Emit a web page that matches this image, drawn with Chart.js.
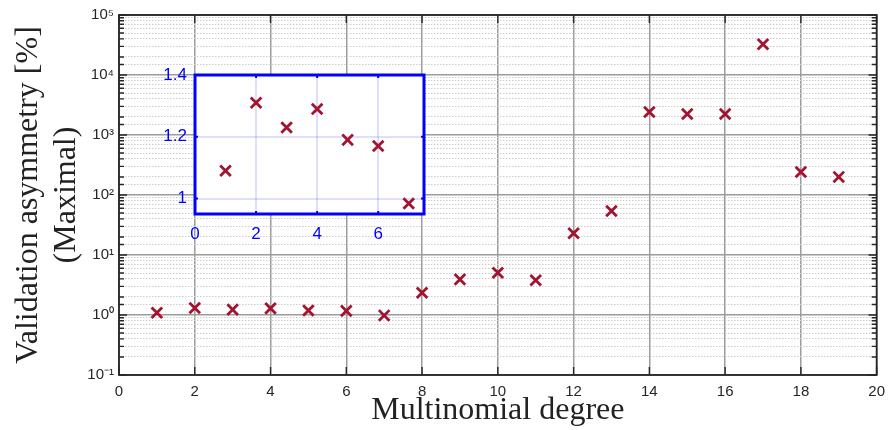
<!DOCTYPE html>
<html>
<head>
<meta charset="utf-8">
<script src="https://cdn.jsdelivr.net/npm/chart.js@4.4.1/dist/chart.umd.min.js"></script>
<style>
  html, body { margin: 0; padding: 0; background: #fff; }
  #wrap { position: relative; width: 893px; height: 430px; }
  #mainBox { position: absolute; left: 0; top: 0; width: 893px; height: 430px; }
  #insetBox { position: absolute; left: 150px; top: 55px; width: 285px; height: 195px; }
</style>
</head>
<body>
<div id="wrap">
  <div id="mainBox"><canvas id="mainChart"></canvas></div>
  <div id="insetBox"><canvas id="insetChart"></canvas></div>
</div>
<script>
// polynomial degree vs. maximal validation asymmetry (%)
const degrees = [1, 2, 3, 4, 5, 6, 7, 8, 9, 10, 11, 12, 13, 14, 15, 16, 17, 18, 19];
const asymmetry = [1.09, 1.31, 1.23, 1.29, 1.19, 1.17, 0.984, 2.35, 3.93, 5.05, 3.8, 23, 54, 2420, 2240, 2240, 32600, 242, 200];

// zoomed view of the low degrees
const insetCount = 7;
const insetXTicks = [0, 2, 4, 6];
const insetYTicks = [1, 1.2, 1.4];

const xTickLabels = [0, 2, 4, 6, 8, 10, 12, 14, 16, 18, 20];
const supers = { '-': '⁻', '0': '⁰', '1': '¹', '2': '²', '3': '³', '4': '⁴', '5': '⁵' };

const markColor = '#A2142F';
const axisColor = '#262626';
const majorGrid = '#9c9c9c';

function isDecade(v) {
    const e = Math.log10(v);
    return Math.abs(e - Math.round(e)) < 1e-9;
}

function decadeLabel(v) {
    const e = String(Math.round(Math.log10(v)));
    return '10' + e.split('').map(c => supers[c]).join('');
}

// frame + inward tick marks, matlab style
const frameTicks = {
    id: 'frameTicks',
    afterDraw(chart, args, opts) {
        const { ctx, chartArea: a, scales } = chart;
        const xs = scales.x, ys = scales.y;
        ctx.save();
        ctx.strokeStyle = opts.color;
        ctx.lineWidth = opts.tickWidth;
        ctx.beginPath();
        ys.ticks.forEach(t => {
            const y = ys.getPixelForValue(t.value);
            if (y < a.top - 0.5 || y > a.bottom + 0.5) return;
            const len = opts.logMinor && !isDecade(t.value) ? opts.minorLen : opts.majorLen;
            ctx.moveTo(a.left, y); ctx.lineTo(a.left + len, y);
            ctx.moveTo(a.right, y); ctx.lineTo(a.right - len, y);
        });
        xs.ticks.forEach(t => {
            const x = xs.getPixelForValue(t.value);
            ctx.moveTo(x, a.bottom); ctx.lineTo(x, a.bottom - opts.majorLen);
            ctx.moveTo(x, a.top); ctx.lineTo(x, a.top + opts.majorLen);
        });
        ctx.stroke();
        ctx.lineWidth = opts.frameWidth;
        ctx.strokeRect(a.left, a.top, a.right - a.left, a.bottom - a.top);
        ctx.restore();
    }
};

const whiteArea = {
    id: 'whiteArea',
    beforeDraw(chart) {
        const { ctx, chartArea: a } = chart;
        ctx.save();
        ctx.fillStyle = '#fff';
        ctx.fillRect(a.left, a.top, a.right - a.left, a.bottom - a.top);
        ctx.restore();
    }
};

const tickFont = { family: "'Liberation Sans', Arial, sans-serif", size: 15 };
const titleFont = { family: "'Liberation Serif', 'Times New Roman', serif", size: 32 };

new Chart(document.getElementById('mainChart'), {
    type: 'scatter',
    data: {
        datasets: [{
            data: degrees.map((d, i) => ({ x: d, y: asymmetry[i] })),
            pointStyle: 'crossRot',
            pointRadius: 7.5,
            borderWidth: 2.8,
            borderColor: markColor,
            backgroundColor: markColor
        }]
    },
    options: {
        responsive: true,
        maintainAspectRatio: false,
        animation: false,
        layout: { padding: { top: 15, right: 11, left: 0, bottom: 0 } },
        plugins: {
            legend: { display: false },
            tooltip: { enabled: false },
            frameTicks: { color: axisColor, tickWidth: 1.4, frameWidth: 1.8, majorLen: 8, minorLen: 5, logMinor: true }
        },
        scales: {
            x: {
                type: 'linear',
                min: 0, max: 20,
                afterBuildTicks: s => { s.ticks = xTickLabels.map(v => ({ value: v })); },
                afterFit: s => { s.height = 55; },
                ticks: { color: axisColor, font: tickFont, padding: 8, maxRotation: 0 },
                grid: { color: majorGrid, lineWidth: 1.5, drawTicks: false },
                border: { display: false },
                title: { display: true, text: 'Multinomial degree', color: '#222', font: titleFont, padding: { top: 0, bottom: 0 } }
            },
            y: {
                type: 'logarithmic',
                min: 0.1, max: 1e5,
                afterFit: s => { s.width = 119; },
                ticks: {
                    autoSkip: false,
                    color: axisColor,
                    font: tickFont,
                    padding: 5,
                    callback: v => isDecade(v) ? decadeLabel(v) : ''
                },
                grid: {
                    drawTicks: false,
                    color: c => (c.tick && isDecade(c.tick.value)) ? majorGrid : '#cccccc',
                    lineWidth: c => (c.tick && isDecade(c.tick.value)) ? 1.5 : 1
                },
                border: {
                    display: false,
                    dash: c => (c.tick && !isDecade(c.tick.value)) ? [1.5, 1.5] : []
                },
                title: {
                    display: true,
                    text: ['Validation asymmetry [%]', '(Maximal)'],
                    color: '#222',
                    font: { ...titleFont, lineHeight: 1.17 },
                    padding: { top: 10, bottom: 0 }
                }
            }
        }
    },
    plugins: [frameTicks]
});

const insetFont = { family: "'Liberation Sans', Arial, sans-serif", size: 17 };

new Chart(document.getElementById('insetChart'), {
    type: 'scatter',
    data: {
        datasets: [{
            data: degrees.slice(0, insetCount).map((d, i) => ({ x: d, y: asymmetry[i] })),
            pointStyle: 'crossRot',
            pointRadius: 7.5,
            borderWidth: 2.8,
            borderColor: markColor,
            backgroundColor: markColor
        }]
    },
    options: {
        responsive: true,
        maintainAspectRatio: false,
        animation: false,
        layout: { padding: { top: 20, right: 11, left: 0, bottom: 0 } },
        plugins: {
            legend: { display: false },
            tooltip: { enabled: false },
            frameTicks: { color: '#0000ff', tickWidth: 2, frameWidth: 3, majorLen: 3, minorLen: 3, logMinor: false }
        },
        scales: {
            x: {
                type: 'linear',
                min: 0, max: 7.5,
                afterBuildTicks: s => { s.ticks = insetXTicks.map(v => ({ value: v })); },
                afterFit: s => { s.height = 36; },
                ticks: { color: '#0000ff', font: insetFont, padding: 10, maxRotation: 0 },
                grid: { color: 'rgba(0,0,255,0.13)', lineWidth: 2, drawTicks: false },
                border: { display: false }
            },
            y: {
                type: 'linear',
                min: 0.95, max: 1.4,
                afterBuildTicks: s => { s.ticks = insetYTicks.map(v => ({ value: v })); },
                afterFit: s => { s.width = 45; },
                ticks: { color: '#0000ff', font: insetFont, padding: 8, callback: v => String(v) },
                grid: { color: 'rgba(0,0,255,0.13)', lineWidth: 2, drawTicks: false },
                border: { display: false }
            }
        }
    },
    plugins: [whiteArea, frameTicks]
});
</script>
</body>
</html>
